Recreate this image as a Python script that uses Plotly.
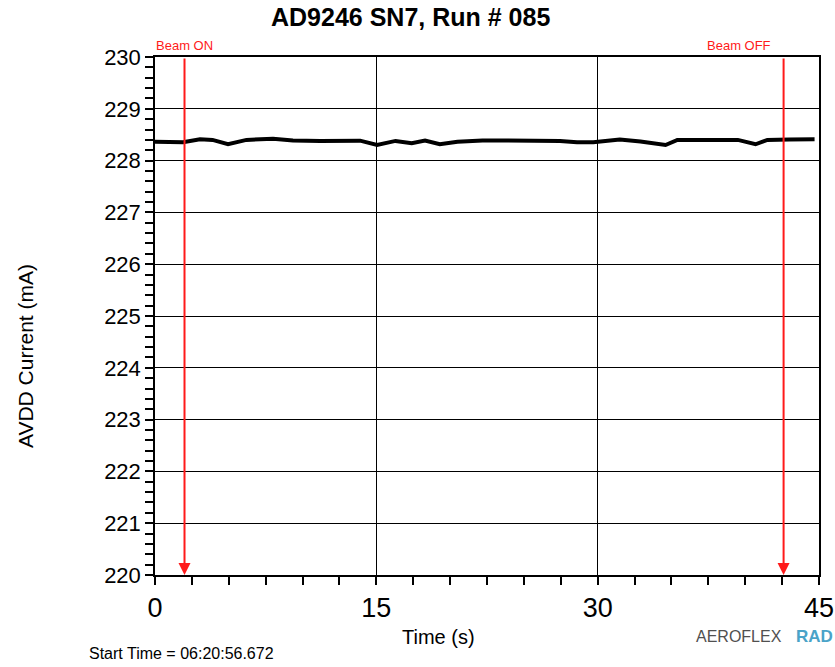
import plotly.graph_objects as go

# AVDD supply current samples over the run
time_s = [0.0, 1.0, 1.9, 3.05, 3.9, 4.95, 6.2, 8.0, 9.35, 11.2, 12.9, 13.9, 15.05,
          16.3, 17.4, 18.3, 19.3, 20.5, 22.2, 24.05, 25.4, 27.45, 28.6, 29.7,
          31.5, 32.9, 34.6, 35.4, 36.9, 39.5, 40.7, 41.5, 43.0, 44.7]
avdd_ma = [228.365, 228.36, 228.355, 228.41, 228.40, 228.315, 228.40, 228.42,
           228.39, 228.38, 228.38, 228.385, 228.30, 228.38, 228.335, 228.385,
           228.315, 228.365, 228.39, 228.39, 228.39, 228.38, 228.355, 228.355,
           228.405, 228.37, 228.30, 228.40, 228.40, 228.40, 228.315, 228.40,
           228.405, 228.41]

beam_on_s = 2.0
beam_off_s = 42.6

x_range = [0, 45]
y_range = [220, 230]
x_ticks = [0, 15, 30, 45]
y_ticks = [220, 221, 222, 223, 224, 225, 226, 227, 228, 229, 230]

FONT = "Liberation Sans, Arial, sans-serif"
PLOT_L, PLOT_R, PLOT_T, PLOT_B = 155, 819, 57, 575
W, H = 835, 667


def px(xp):
    return (xp - PLOT_L) / (PLOT_R - PLOT_L)


def py(yp):
    return (PLOT_B - yp) / (PLOT_B - PLOT_T)


fig = go.Figure()
fig.add_trace(go.Scatter(x=time_s, y=avdd_ma, mode="lines",
                         line=dict(color="black", width=4), showlegend=False,
                         hoverinfo="x+y"))

# beam markers: red vertical arrows spanning the full y range
for xb in (beam_on_s, beam_off_s):
    fig.add_annotation(x=xb, y=y_range[0], ax=xb, ay=y_range[1],
                       xref="x", yref="y", axref="x", ayref="y",
                       text="", showarrow=True, arrowhead=2, arrowsize=1.2,
                       arrowwidth=2, arrowcolor="#ff1a1a")

fig.add_annotation(x=px(154), y=py(46), xref="paper", yref="paper",
                   xanchor="left", yanchor="middle", showarrow=False,
                   text="Beam ON", font=dict(family=FONT, size=13, color="#ff1a1a"))
fig.add_annotation(x=px(773), y=py(46), xref="paper", yref="paper",
                   xanchor="right", yanchor="middle", showarrow=False,
                   text="Beam OFF", font=dict(family=FONT, size=13, color="#ff1a1a"))

# title and axis titles
fig.add_annotation(x=px(410), y=py(17), xref="paper", yref="paper",
                   xanchor="center", yanchor="middle", showarrow=False,
                   text="<b>AD9246 SN7, Run # 085</b>",
                   font=dict(family=FONT, size=25, color="black"))
fig.add_annotation(x=px(25), y=py(356), xref="paper", yref="paper",
                   xanchor="center", yanchor="middle", showarrow=False,
                   textangle=-90, text="AVDD Current (mA)",
                   font=dict(family=FONT, size=21, color="black"))
fig.add_annotation(x=px(438), y=py(637), xref="paper", yref="paper",
                   xanchor="center", yanchor="middle", showarrow=False,
                   text="Time (s)", font=dict(family=FONT, size=20, color="black"))
fig.add_annotation(x=px(87), y=py(653), xref="paper", yref="paper",
                   xanchor="left", yanchor="middle", showarrow=False,
                   text="Start Time = 06:20:56.672",
                   font=dict(family=FONT, size=16, color="black"))

# logo text
fig.add_annotation(x=px(784), y=py(636), xref="paper", yref="paper",
                   xanchor="right", yanchor="middle", showarrow=False,
                   text="AEROFLEX",
                   font=dict(family="Liberation Sans Narrow, " + FONT, size=16,
                             color="#505050"))
fig.add_annotation(x=px(835), y=py(636), xref="paper", yref="paper",
                   xanchor="right", yanchor="middle", showarrow=False,
                   text="<b>RAD</b>", font=dict(family=FONT, size=17, color="#4aa3c8"))

axis_common = dict(showline=True, linecolor="black", linewidth=1.5, mirror=True,
                   showgrid=True, gridcolor="black", gridwidth=1,
                   ticks="outside", ticklen=8, tickcolor="black", tickwidth=1.5,
                   zeroline=False, automargin=False)

fig.update_xaxes(range=x_range, tickvals=x_ticks, ticktext=[str(v) for v in x_ticks],
                 tickfont=dict(family=FONT, size=27, color="black"),
                 minor=dict(dtick=2.5, tick0=0, ticks="outside", ticklen=8,
                            tickcolor="black", tickwidth=1.5, showgrid=False),
                 **axis_common)
fig.update_yaxes(range=y_range, tickvals=y_ticks, ticktext=[str(v) for v in y_ticks],
                 tickfont=dict(family=FONT, size=22, color="black"),
                 minor=dict(dtick=0.2, tick0=220, ticks="outside", ticklen=8,
                            tickcolor="black", tickwidth=1.5, showgrid=False),
                 **axis_common)

fig.update_layout(width=W, height=H, autosize=False,
                  margin=dict(l=PLOT_L, r=W - PLOT_R, t=PLOT_T, b=H - PLOT_B),
                  paper_bgcolor="white", plot_bgcolor="white",
                  font=dict(family=FONT, color="black"), showlegend=False)

fig.write_html("out.html")
